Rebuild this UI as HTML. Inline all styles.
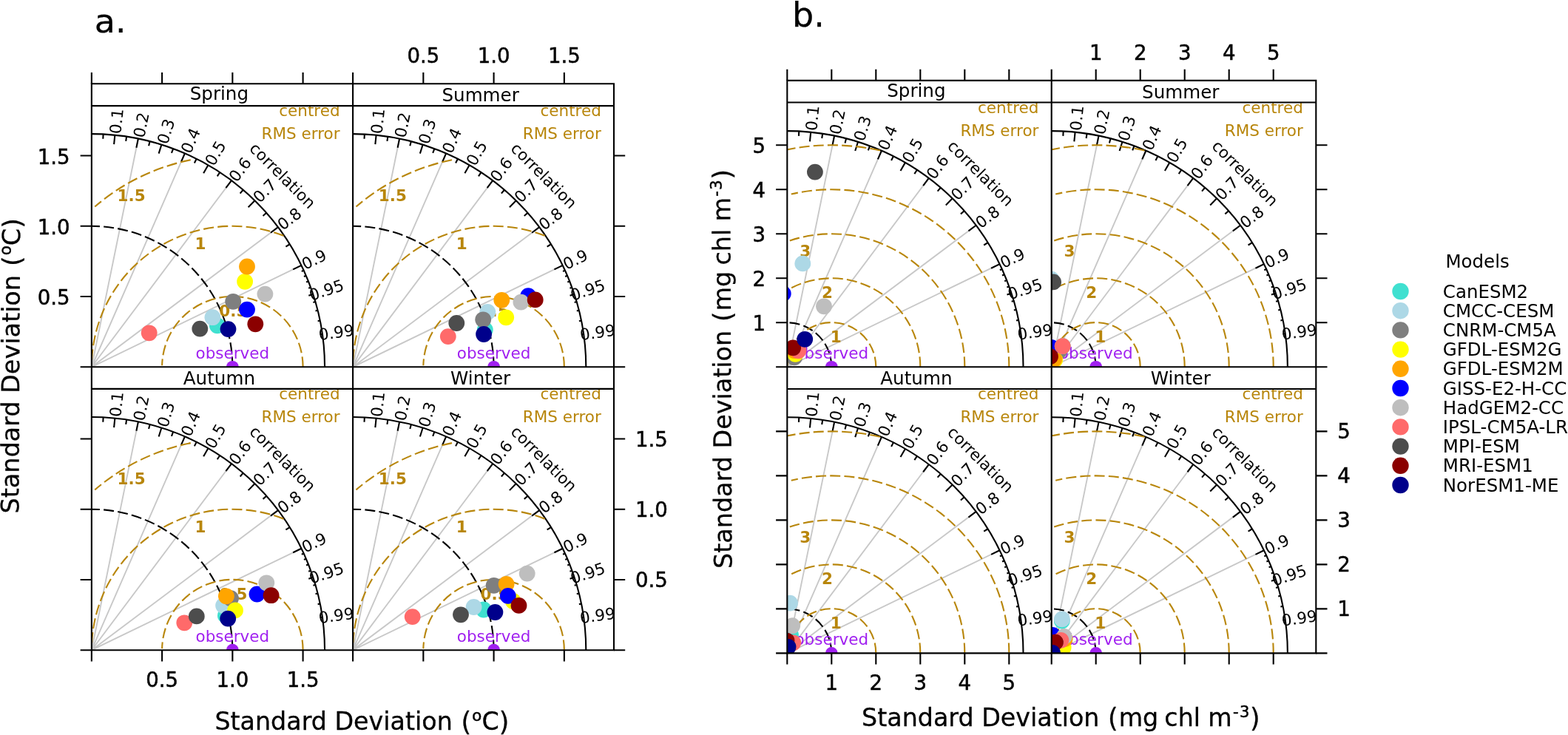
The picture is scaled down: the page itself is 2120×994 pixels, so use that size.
<!DOCTYPE html>
<html lang="en"><head><meta charset="utf-8"><title>Taylor diagrams</title>
<style>html,body{margin:0;padding:0;background:#fff;overflow:hidden}svg{display:block}text{font-family:"DejaVu Sans","Liberation Sans",sans-serif}</style>
</head><body>
<svg width="2120" height="994" viewBox="0 0 2120 994">
<rect width="2120" height="994" fill="#fff"/>
<clipPath id="cpa0"><rect x="123.85" y="143.1" width="353.25" height="353.2"/></clipPath>
<clipPath id="cca0"><circle cx="123.85" cy="496.3" r="316.2"/></clipPath>
<g clip-path="url(#cpa0)">
<path d="M123.85 496.3L186.89 187.47M123.85 496.3L249.93 207.41M123.85 496.3L312.97 244.14M123.85 496.3L376.01 307.18M123.85 496.3L407.53 358.91" fill="none" stroke="#C8C8C8" stroke-width="1.9"/>
<path d="M439.05 496.3 A315.2 315.2 0 0 0 123.85 181.1" fill="none" stroke="#000" stroke-width="2.1"/>
<path d="M314.35 496.3 A190.5 190.5 0 0 0 123.85 305.8" fill="none" stroke="#000" stroke-width="2.1" stroke-dasharray="14 5.2"/>
<path d="M155.37 182.68L154.11 195.22M186.89 187.47L184.37 199.82M218.41 195.62L214.63 207.65M249.93 207.41L244.89 218.97M281.45 223.33L275.15 234.25M312.97 244.14L305.41 254.23M344.49 271.2L335.66 280.21M376.01 307.18L365.92 314.74M407.53 358.91L396.18 364.4M139.61 181.49L139.29 187.79M171.13 184.67L170.18 190.9M202.65 191.11L201.07 197.21M234.17 201.04L231.96 206.94M265.69 214.82L262.85 220.45M297.21 233.06L293.74 238.32M328.73 256.77L324.63 261.56M360.25 287.81L355.52 291.98M391.77 330.26L386.41 333.58M423.29 397.88L417.3 399.85M410.68 365.62L407.81 366.92M413.83 372.77L410.93 374M416.99 380.45L414.05 381.6M420.14 388.76L417.18 389.84M423.29 397.88L420.3 398.86M426.44 408.04L423.42 408.93M429.59 419.67L426.54 420.44M432.75 433.58L429.66 434.2M435.9 451.84L432.78 452.28" fill="none" stroke="#000" stroke-width="2.1"/>
<g fill="none" stroke="#B8860B" stroke-width="2.1" stroke-dasharray="14 5.2">
<path d="M409.6 496.3 A95.25 95.25 0 0 0 219.12 494.24"/>
<path d="M383.38 318.75 A190.5 190.5 0 0 0 123.89 492.19"/>
<path d="M257.8 216.2 A285.75 285.75 0 0 0 128.26 279.45"/>
</g>
<text x="315.38" y="427.73" font-size="21.5" text-anchor="middle" font-weight="bold" fill="#B8860B">0.5</text>
<text x="271.07" y="337.46" font-size="21.5" text-anchor="middle" font-weight="bold" fill="#B8860B">1</text>
<text x="177.55" y="272.1" font-size="21.5" text-anchor="middle" font-weight="bold" fill="#B8860B">1.5</text>
<text x="459.57" y="156.94" font-size="21.5" text-anchor="end" fill="#B8860B">centred</text>
<text x="459.57" y="188.34" font-size="21.5" text-anchor="end" fill="#B8860B">RMS error</text>
<text transform="translate(157.26 163.86) rotate(-84.26)" font-size="21.5" text-anchor="middle" dy="7.84">0.1</text>
<text transform="translate(190.67 168.94) rotate(-78.46)" font-size="21.5" text-anchor="middle" dy="7.84">0.2</text>
<text transform="translate(224.08 177.58) rotate(-72.54)" font-size="21.5" text-anchor="middle" dy="7.84">0.3</text>
<text transform="translate(257.49 190.08) rotate(-66.42)" font-size="21.5" text-anchor="middle" dy="7.84">0.4</text>
<text transform="translate(290.91 206.95) rotate(-60)" font-size="21.5" text-anchor="middle" dy="7.84">0.5</text>
<text transform="translate(324.32 229.01) rotate(-53.13)" font-size="21.5" text-anchor="middle" dy="7.84">0.6</text>
<text transform="translate(357.73 257.7) rotate(-45.57)" font-size="21.5" text-anchor="middle" dy="7.84">0.7</text>
<text transform="translate(391.14 295.83) rotate(-36.87)" font-size="21.5" text-anchor="middle" dy="7.84">0.8</text>
<text transform="translate(424.55 350.66) rotate(-25.84)" font-size="21.5" text-anchor="middle" dy="7.84">0.9</text>
<text transform="translate(441.26 391.97) rotate(-18.19)" font-size="21.5" text-anchor="middle" dy="7.84">0.95</text>
<text transform="translate(454.62 449.17) rotate(-8.11)" font-size="21.5" text-anchor="middle" dy="7.84">0.99</text>
<text transform="translate(381.81 237.84) rotate(45)" font-size="21.5" text-anchor="middle" dy="7">correlation</text>
<circle cx="314.35" cy="496.3" r="8.4" fill="#A020F0"/>
<text x="314.35" y="485.3" font-size="21.5" text-anchor="middle" fill="#A020F0">observed</text>
<circle cx="293.8" cy="440.3" r="10.9" fill="#40E0D0"/>
<circle cx="287.4" cy="429.2" r="10.9" fill="#ADD8E6"/>
<circle cx="315.2" cy="407.8" r="10.9" fill="#7F7F7F"/>
<circle cx="331.1" cy="380.8" r="10.9" fill="#FFFF00"/>
<circle cx="334" cy="360.5" r="10.9" fill="#FFA500"/>
<circle cx="334" cy="418.6" r="10.9" fill="#0000FF"/>
<circle cx="358.4" cy="397.6" r="10.9" fill="#BEBEBE"/>
<circle cx="201.7" cy="450.3" r="10.9" fill="#FF6A6A"/>
<circle cx="270.3" cy="444.6" r="10.9" fill="#4D4D4D"/>
<circle cx="345.3" cy="438.3" r="10.9" fill="#8B0000"/>
<circle cx="308.5" cy="445.1" r="10.9" fill="#00008B"/>
</g>
<clipPath id="cpa1"><rect x="477.1" y="143.1" width="353.25" height="353.2"/></clipPath>
<clipPath id="cca1"><circle cx="477.1" cy="496.3" r="316.2"/></clipPath>
<g clip-path="url(#cpa1)">
<path d="M477.1 496.3L540.14 187.47M477.1 496.3L603.18 207.41M477.1 496.3L666.22 244.14M477.1 496.3L729.26 307.18M477.1 496.3L760.78 358.91" fill="none" stroke="#C8C8C8" stroke-width="1.9"/>
<path d="M792.3 496.3 A315.2 315.2 0 0 0 477.1 181.1" fill="none" stroke="#000" stroke-width="2.1"/>
<path d="M667.6 496.3 A190.5 190.5 0 0 0 477.1 305.8" fill="none" stroke="#000" stroke-width="2.1" stroke-dasharray="14 5.2"/>
<path d="M508.62 182.68L507.36 195.22M540.14 187.47L537.62 199.82M571.66 195.62L567.88 207.65M603.18 207.41L598.14 218.97M634.7 223.33L628.4 234.25M666.22 244.14L658.66 254.23M697.74 271.2L688.91 280.21M729.26 307.18L719.17 314.74M760.78 358.91L749.43 364.4M492.86 181.49L492.54 187.79M524.38 184.67L523.43 190.9M555.9 191.11L554.32 197.21M587.42 201.04L585.21 206.94M618.94 214.82L616.1 220.45M650.46 233.06L646.99 238.32M681.98 256.77L677.88 261.56M713.5 287.81L708.77 291.98M745.02 330.26L739.66 333.58M776.54 397.88L770.55 399.85M763.93 365.62L761.06 366.92M767.08 372.77L764.18 374M770.24 380.45L767.3 381.6M773.39 388.76L770.43 389.84M776.54 397.88L773.55 398.86M779.69 408.04L776.67 408.93M782.84 419.67L779.79 420.44M786 433.58L782.91 434.2M789.15 451.84L786.03 452.28" fill="none" stroke="#000" stroke-width="2.1"/>
<g fill="none" stroke="#B8860B" stroke-width="2.1" stroke-dasharray="14 5.2">
<path d="M762.85 496.3 A95.25 95.25 0 0 0 572.37 494.24"/>
<path d="M736.63 318.75 A190.5 190.5 0 0 0 477.14 492.19"/>
<path d="M611.05 216.2 A285.75 285.75 0 0 0 481.51 279.45"/>
</g>
<text x="668.63" y="427.73" font-size="21.5" text-anchor="middle" font-weight="bold" fill="#B8860B">0.5</text>
<text x="624.32" y="337.46" font-size="21.5" text-anchor="middle" font-weight="bold" fill="#B8860B">1</text>
<text x="530.8" y="272.1" font-size="21.5" text-anchor="middle" font-weight="bold" fill="#B8860B">1.5</text>
<text x="812.82" y="156.94" font-size="21.5" text-anchor="end" fill="#B8860B">centred</text>
<text x="812.82" y="188.34" font-size="21.5" text-anchor="end" fill="#B8860B">RMS error</text>
<text transform="translate(510.51 163.86) rotate(-84.26)" font-size="21.5" text-anchor="middle" dy="7.84">0.1</text>
<text transform="translate(543.92 168.94) rotate(-78.46)" font-size="21.5" text-anchor="middle" dy="7.84">0.2</text>
<text transform="translate(577.33 177.58) rotate(-72.54)" font-size="21.5" text-anchor="middle" dy="7.84">0.3</text>
<text transform="translate(610.74 190.08) rotate(-66.42)" font-size="21.5" text-anchor="middle" dy="7.84">0.4</text>
<text transform="translate(644.16 206.95) rotate(-60)" font-size="21.5" text-anchor="middle" dy="7.84">0.5</text>
<text transform="translate(677.57 229.01) rotate(-53.13)" font-size="21.5" text-anchor="middle" dy="7.84">0.6</text>
<text transform="translate(710.98 257.7) rotate(-45.57)" font-size="21.5" text-anchor="middle" dy="7.84">0.7</text>
<text transform="translate(744.39 295.83) rotate(-36.87)" font-size="21.5" text-anchor="middle" dy="7.84">0.8</text>
<text transform="translate(777.8 350.66) rotate(-25.84)" font-size="21.5" text-anchor="middle" dy="7.84">0.9</text>
<text transform="translate(794.51 391.97) rotate(-18.19)" font-size="21.5" text-anchor="middle" dy="7.84">0.95</text>
<text transform="translate(807.87 449.17) rotate(-8.11)" font-size="21.5" text-anchor="middle" dy="7.84">0.99</text>
<text transform="translate(735.06 237.84) rotate(45)" font-size="21.5" text-anchor="middle" dy="7">correlation</text>
<circle cx="667.6" cy="496.3" r="8.4" fill="#A020F0"/>
<text x="667.6" y="485.3" font-size="21.5" text-anchor="middle" fill="#A020F0">observed</text>
<circle cx="655.8" cy="445.9" r="10.9" fill="#40E0D0"/>
<circle cx="659.3" cy="422" r="10.9" fill="#ADD8E6"/>
<circle cx="653.2" cy="432.3" r="10.9" fill="#7F7F7F"/>
<circle cx="684.2" cy="429.3" r="10.9" fill="#FFFF00"/>
<circle cx="678.3" cy="405.8" r="10.9" fill="#FFA500"/>
<circle cx="714.2" cy="400.1" r="10.9" fill="#0000FF"/>
<circle cx="704.4" cy="408.6" r="10.9" fill="#BEBEBE"/>
<circle cx="605.8" cy="455.1" r="10.9" fill="#FF6A6A"/>
<circle cx="617.3" cy="437" r="10.9" fill="#4D4D4D"/>
<circle cx="723.7" cy="405.4" r="10.9" fill="#8B0000"/>
<circle cx="654.1" cy="452" r="10.9" fill="#00008B"/>
</g>
<clipPath id="cpa2"><rect x="123.85" y="526" width="353.25" height="353.2"/></clipPath>
<clipPath id="cca2"><circle cx="123.85" cy="879.2" r="316.2"/></clipPath>
<g clip-path="url(#cpa2)">
<path d="M123.85 879.2L186.89 570.37M123.85 879.2L249.93 590.31M123.85 879.2L312.97 627.04M123.85 879.2L376.01 690.08M123.85 879.2L407.53 741.81" fill="none" stroke="#C8C8C8" stroke-width="1.9"/>
<path d="M439.05 879.2 A315.2 315.2 0 0 0 123.85 564" fill="none" stroke="#000" stroke-width="2.1"/>
<path d="M314.35 879.2 A190.5 190.5 0 0 0 123.85 688.7" fill="none" stroke="#000" stroke-width="2.1" stroke-dasharray="14 5.2"/>
<path d="M155.37 565.58L154.11 578.12M186.89 570.37L184.37 582.72M218.41 578.52L214.63 590.55M249.93 590.31L244.89 601.87M281.45 606.23L275.15 617.15M312.97 627.04L305.41 637.13M344.49 654.1L335.66 663.11M376.01 690.08L365.92 697.64M407.53 741.81L396.18 747.3M139.61 564.39L139.29 570.69M171.13 567.57L170.18 573.8M202.65 574.01L201.07 580.11M234.17 583.94L231.96 589.84M265.69 597.72L262.85 603.35M297.21 615.96L293.74 621.22M328.73 639.67L324.63 644.46M360.25 670.71L355.52 674.88M391.77 713.16L386.41 716.48M423.29 780.78L417.3 782.75M410.68 748.52L407.81 749.82M413.83 755.67L410.93 756.9M416.99 763.35L414.05 764.5M420.14 771.66L417.18 772.74M423.29 780.78L420.3 781.76M426.44 790.94L423.42 791.83M429.59 802.57L426.54 803.34M432.75 816.48L429.66 817.1M435.9 834.74L432.78 835.18" fill="none" stroke="#000" stroke-width="2.1"/>
<g fill="none" stroke="#B8860B" stroke-width="2.1" stroke-dasharray="14 5.2">
<path d="M409.6 879.2 A95.25 95.25 0 0 0 219.12 877.14"/>
<path d="M383.38 701.65 A190.5 190.5 0 0 0 123.89 875.09"/>
<path d="M257.8 599.1 A285.75 285.75 0 0 0 128.26 662.35"/>
</g>
<text x="315.38" y="810.63" font-size="21.5" text-anchor="middle" font-weight="bold" fill="#B8860B">0.5</text>
<text x="271.07" y="720.36" font-size="21.5" text-anchor="middle" font-weight="bold" fill="#B8860B">1</text>
<text x="177.55" y="655" font-size="21.5" text-anchor="middle" font-weight="bold" fill="#B8860B">1.5</text>
<text x="459.57" y="539.84" font-size="21.5" text-anchor="end" fill="#B8860B">centred</text>
<text x="459.57" y="571.24" font-size="21.5" text-anchor="end" fill="#B8860B">RMS error</text>
<text transform="translate(157.26 546.76) rotate(-84.26)" font-size="21.5" text-anchor="middle" dy="7.84">0.1</text>
<text transform="translate(190.67 551.84) rotate(-78.46)" font-size="21.5" text-anchor="middle" dy="7.84">0.2</text>
<text transform="translate(224.08 560.48) rotate(-72.54)" font-size="21.5" text-anchor="middle" dy="7.84">0.3</text>
<text transform="translate(257.49 572.98) rotate(-66.42)" font-size="21.5" text-anchor="middle" dy="7.84">0.4</text>
<text transform="translate(290.91 589.85) rotate(-60)" font-size="21.5" text-anchor="middle" dy="7.84">0.5</text>
<text transform="translate(324.32 611.91) rotate(-53.13)" font-size="21.5" text-anchor="middle" dy="7.84">0.6</text>
<text transform="translate(357.73 640.6) rotate(-45.57)" font-size="21.5" text-anchor="middle" dy="7.84">0.7</text>
<text transform="translate(391.14 678.73) rotate(-36.87)" font-size="21.5" text-anchor="middle" dy="7.84">0.8</text>
<text transform="translate(424.55 733.56) rotate(-25.84)" font-size="21.5" text-anchor="middle" dy="7.84">0.9</text>
<text transform="translate(441.26 774.87) rotate(-18.19)" font-size="21.5" text-anchor="middle" dy="7.84">0.95</text>
<text transform="translate(454.62 832.07) rotate(-8.11)" font-size="21.5" text-anchor="middle" dy="7.84">0.99</text>
<text transform="translate(381.81 620.74) rotate(45)" font-size="21.5" text-anchor="middle" dy="7">correlation</text>
<circle cx="314.35" cy="879.2" r="8.4" fill="#A020F0"/>
<text x="314.35" y="868.2" font-size="21.5" text-anchor="middle" fill="#A020F0">observed</text>
<circle cx="304.9" cy="832.4" r="10.9" fill="#40E0D0"/>
<circle cx="302.1" cy="819" r="10.9" fill="#ADD8E6"/>
<circle cx="312" cy="809.2" r="10.9" fill="#7F7F7F"/>
<circle cx="318" cy="825.4" r="10.9" fill="#FFFF00"/>
<circle cx="305.9" cy="806.3" r="10.9" fill="#FFA500"/>
<circle cx="347.5" cy="803.5" r="10.9" fill="#0000FF"/>
<circle cx="360.3" cy="788.3" r="10.9" fill="#BEBEBE"/>
<circle cx="249.3" cy="842.3" r="10.9" fill="#FF6A6A"/>
<circle cx="265.8" cy="833.4" r="10.9" fill="#4D4D4D"/>
<circle cx="366.6" cy="805.2" r="10.9" fill="#8B0000"/>
<circle cx="308.2" cy="836.6" r="10.9" fill="#00008B"/>
</g>
<clipPath id="cpa3"><rect x="477.1" y="526" width="353.25" height="353.2"/></clipPath>
<clipPath id="cca3"><circle cx="477.1" cy="879.2" r="316.2"/></clipPath>
<g clip-path="url(#cpa3)">
<path d="M477.1 879.2L540.14 570.37M477.1 879.2L603.18 590.31M477.1 879.2L666.22 627.04M477.1 879.2L729.26 690.08M477.1 879.2L760.78 741.81" fill="none" stroke="#C8C8C8" stroke-width="1.9"/>
<path d="M792.3 879.2 A315.2 315.2 0 0 0 477.1 564" fill="none" stroke="#000" stroke-width="2.1"/>
<path d="M667.6 879.2 A190.5 190.5 0 0 0 477.1 688.7" fill="none" stroke="#000" stroke-width="2.1" stroke-dasharray="14 5.2"/>
<path d="M508.62 565.58L507.36 578.12M540.14 570.37L537.62 582.72M571.66 578.52L567.88 590.55M603.18 590.31L598.14 601.87M634.7 606.23L628.4 617.15M666.22 627.04L658.66 637.13M697.74 654.1L688.91 663.11M729.26 690.08L719.17 697.64M760.78 741.81L749.43 747.3M492.86 564.39L492.54 570.69M524.38 567.57L523.43 573.8M555.9 574.01L554.32 580.11M587.42 583.94L585.21 589.84M618.94 597.72L616.1 603.35M650.46 615.96L646.99 621.22M681.98 639.67L677.88 644.46M713.5 670.71L708.77 674.88M745.02 713.16L739.66 716.48M776.54 780.78L770.55 782.75M763.93 748.52L761.06 749.82M767.08 755.67L764.18 756.9M770.24 763.35L767.3 764.5M773.39 771.66L770.43 772.74M776.54 780.78L773.55 781.76M779.69 790.94L776.67 791.83M782.84 802.57L779.79 803.34M786 816.48L782.91 817.1M789.15 834.74L786.03 835.18" fill="none" stroke="#000" stroke-width="2.1"/>
<g fill="none" stroke="#B8860B" stroke-width="2.1" stroke-dasharray="14 5.2">
<path d="M762.85 879.2 A95.25 95.25 0 0 0 572.37 877.14"/>
<path d="M736.63 701.65 A190.5 190.5 0 0 0 477.14 875.09"/>
<path d="M611.05 599.1 A285.75 285.75 0 0 0 481.51 662.35"/>
</g>
<text x="668.63" y="810.63" font-size="21.5" text-anchor="middle" font-weight="bold" fill="#B8860B">0.5</text>
<text x="624.32" y="720.36" font-size="21.5" text-anchor="middle" font-weight="bold" fill="#B8860B">1</text>
<text x="530.8" y="655" font-size="21.5" text-anchor="middle" font-weight="bold" fill="#B8860B">1.5</text>
<text x="812.82" y="539.84" font-size="21.5" text-anchor="end" fill="#B8860B">centred</text>
<text x="812.82" y="571.24" font-size="21.5" text-anchor="end" fill="#B8860B">RMS error</text>
<text transform="translate(510.51 546.76) rotate(-84.26)" font-size="21.5" text-anchor="middle" dy="7.84">0.1</text>
<text transform="translate(543.92 551.84) rotate(-78.46)" font-size="21.5" text-anchor="middle" dy="7.84">0.2</text>
<text transform="translate(577.33 560.48) rotate(-72.54)" font-size="21.5" text-anchor="middle" dy="7.84">0.3</text>
<text transform="translate(610.74 572.98) rotate(-66.42)" font-size="21.5" text-anchor="middle" dy="7.84">0.4</text>
<text transform="translate(644.16 589.85) rotate(-60)" font-size="21.5" text-anchor="middle" dy="7.84">0.5</text>
<text transform="translate(677.57 611.91) rotate(-53.13)" font-size="21.5" text-anchor="middle" dy="7.84">0.6</text>
<text transform="translate(710.98 640.6) rotate(-45.57)" font-size="21.5" text-anchor="middle" dy="7.84">0.7</text>
<text transform="translate(744.39 678.73) rotate(-36.87)" font-size="21.5" text-anchor="middle" dy="7.84">0.8</text>
<text transform="translate(777.8 733.56) rotate(-25.84)" font-size="21.5" text-anchor="middle" dy="7.84">0.9</text>
<text transform="translate(794.51 774.87) rotate(-18.19)" font-size="21.5" text-anchor="middle" dy="7.84">0.95</text>
<text transform="translate(807.87 832.07) rotate(-8.11)" font-size="21.5" text-anchor="middle" dy="7.84">0.99</text>
<text transform="translate(735.06 620.74) rotate(45)" font-size="21.5" text-anchor="middle" dy="7">correlation</text>
<circle cx="667.6" cy="879.2" r="8.4" fill="#A020F0"/>
<text x="667.6" y="868.2" font-size="21.5" text-anchor="middle" fill="#A020F0">observed</text>
<circle cx="653.9" cy="824.5" r="10.9" fill="#40E0D0"/>
<circle cx="640.6" cy="821" r="10.9" fill="#ADD8E6"/>
<circle cx="667.7" cy="791.8" r="10.9" fill="#7F7F7F"/>
<circle cx="693.7" cy="813" r="10.9" fill="#FFFF00"/>
<circle cx="684.6" cy="790" r="10.9" fill="#FFA500"/>
<circle cx="686.8" cy="805.9" r="10.9" fill="#0000FF"/>
<circle cx="712.7" cy="775.6" r="10.9" fill="#BEBEBE"/>
<circle cx="557.7" cy="834.1" r="10.9" fill="#FF6A6A"/>
<circle cx="623" cy="831.3" r="10.9" fill="#4D4D4D"/>
<circle cx="701.5" cy="818.9" r="10.9" fill="#8B0000"/>
<circle cx="669.4" cy="828" r="10.9" fill="#00008B"/>
</g>
<path d="M123.85 113.2H477.1V496.3H123.85Z M123.85 143.1H477.1M477.1 113.2H830V496.3H477.1Z M477.1 143.1H830M123.85 496.3H477.1V879.2H123.85Z M123.85 525.9H477.1M477.1 496.3H830V879.2H477.1Z M477.1 525.9H830" fill="none" stroke="#000" stroke-width="2.1" stroke-linejoin="miter"/>
<path d="M123.85 113.2v-15.2M123.85 879.2v15.2M219.1 113.2v-15.2M219.1 879.2v15.2M314.35 113.2v-15.2M314.35 879.2v15.2M409.6 113.2v-15.2M409.6 879.2v15.2M477.1 113.2v-15.2M477.1 879.2v15.2M572.35 113.2v-15.2M572.35 879.2v15.2M667.6 113.2v-15.2M667.6 879.2v15.2M762.85 113.2v-15.2M762.85 879.2v15.2M123.85 496.3h-15.2M830 496.3h15.2M123.85 401.05h-15.2M830 401.05h15.2M123.85 305.8h-15.2M830 305.8h15.2M123.85 210.55h-15.2M830 210.55h15.2M123.85 879.2h-15.2M830 879.2h15.2M123.85 783.95h-15.2M830 783.95h15.2M123.85 688.7h-15.2M830 688.7h15.2M123.85 593.45h-15.2M830 593.45h15.2" fill="none" stroke="#000" stroke-width="2.1"/>
<text x="572.35" y="85.3" font-size="27.6" text-anchor="middle" stroke="#000" stroke-width="0.5">0.5</text>
<text x="219.1" y="928.7" font-size="27.6" text-anchor="middle" stroke="#000" stroke-width="0.5">0.5</text>
<text x="94.65" y="412.01" font-size="27.6" text-anchor="end" stroke="#000" stroke-width="0.5">0.5</text>
<text x="859" y="794.01" font-size="27.6" stroke="#000" stroke-width="0.5">0.5</text>
<text x="667.6" y="85.3" font-size="27.6" text-anchor="middle" stroke="#000" stroke-width="0.5">1.0</text>
<text x="314.35" y="928.7" font-size="27.6" text-anchor="middle" stroke="#000" stroke-width="0.5">1.0</text>
<text x="94.65" y="316.76" font-size="27.6" text-anchor="end" stroke="#000" stroke-width="0.5">1.0</text>
<text x="859" y="698.76" font-size="27.6" stroke="#000" stroke-width="0.5">1.0</text>
<text x="762.85" y="85.3" font-size="27.6" text-anchor="middle" stroke="#000" stroke-width="0.5">1.5</text>
<text x="409.6" y="928.7" font-size="27.6" text-anchor="middle" stroke="#000" stroke-width="0.5">1.5</text>
<text x="94.65" y="221.51" font-size="27.6" text-anchor="end" stroke="#000" stroke-width="0.5">1.5</text>
<text x="859" y="603.51" font-size="27.6" stroke="#000" stroke-width="0.5">1.5</text>
<text x="296.38" y="135.4" font-size="24.6" text-anchor="middle">Spring</text>
<text x="649.62" y="137.4" font-size="24.6" text-anchor="middle">Summer</text>
<text x="296.38" y="520.35" font-size="24.6" text-anchor="middle">Autumn</text>
<text x="649.62" y="520.35" font-size="24.6" text-anchor="middle">Winter</text>
<clipPath id="cpb0"><rect x="1064.3" y="138.5" width="357.4" height="357.8"/></clipPath>
<clipPath id="ccb0"><circle cx="1064.3" cy="496.3" r="320.2"/></clipPath>
<g clip-path="url(#cpb0)">
<path d="M1064.3 496.3L1128.14 183.55M1064.3 496.3L1191.98 203.75M1064.3 496.3L1255.82 240.94M1064.3 496.3L1319.66 304.78M1064.3 496.3L1351.58 357.16" fill="none" stroke="#C8C8C8" stroke-width="1.9"/>
<path d="M1383.5 496.3 A319.2 319.2 0 0 0 1064.3 177.1" fill="none" stroke="#000" stroke-width="2.1"/>
<path d="M1124.3 496.3 A60 60 0 0 0 1064.3 436.3" fill="none" stroke="#000" stroke-width="2.1" stroke-dasharray="14 5.2"/>
<path d="M1096.22 178.7L1094.94 191.4M1128.14 183.55L1125.59 196.06M1160.06 191.8L1156.23 203.98M1191.98 203.75L1186.87 215.45M1223.9 219.86L1217.52 230.92M1255.82 240.94L1248.16 251.15M1287.74 268.35L1278.8 277.46M1319.66 304.78L1309.45 312.44M1351.58 357.16L1340.09 362.73M1080.26 177.5L1079.94 183.88M1112.18 180.71L1111.22 187.02M1144.1 187.24L1142.5 193.42M1176.02 197.29L1173.79 203.27M1207.94 211.25L1205.07 216.95M1239.86 229.72L1236.35 235.05M1271.78 253.73L1267.63 258.58M1303.7 285.17L1298.91 289.39M1335.62 328.15L1330.19 331.51M1367.54 396.63L1361.48 398.62M1354.77 363.96L1351.87 365.28M1357.96 371.2L1355.03 372.45M1361.16 378.98L1358.19 380.15M1364.35 387.4L1361.35 388.49M1367.54 396.63L1364.51 397.63M1370.73 406.92L1367.67 407.82M1373.92 418.7L1370.83 419.48M1377.12 432.78L1373.99 433.42M1380.31 451.27L1377.15 451.72" fill="none" stroke="#000" stroke-width="2.1"/>
<g fill="none" stroke="#B8860B" stroke-width="2.1" stroke-dasharray="14 5.2">
<path d="M1184.3 496.3 A60 60 0 0 0 1064.31 495"/>
<path d="M1244.3 496.3 A120 120 0 0 0 1066.85 390.94"/>
<path d="M1304.3 496.3 A180 180 0 0 0 1067.81 325.39"/>
<path d="M1364.3 496.3 A240 240 0 0 0 1069.77 262.58"/>
<path d="M1190 203.58 A300 300 0 0 0 1064.93 202.23"/>
</g>
<text x="1130.34" y="463.28" font-size="21.5" text-anchor="middle" font-weight="bold" fill="#B8860B">1</text>
<text x="1118.4" y="403.12" font-size="21.5" text-anchor="middle" font-weight="bold" fill="#B8860B">2</text>
<text x="1088.68" y="346.53" font-size="21.5" text-anchor="middle" font-weight="bold" fill="#B8860B">3</text>
<text x="1404.42" y="152.74" font-size="21.5" text-anchor="end" fill="#B8860B">centred</text>
<text x="1404.42" y="184.14" font-size="21.5" text-anchor="end" fill="#B8860B">RMS error</text>
<text transform="translate(1098.14 159.64) rotate(-84.26)" font-size="21.5" text-anchor="middle" dy="7.84">0.1</text>
<text transform="translate(1131.97 164.78) rotate(-78.46)" font-size="21.5" text-anchor="middle" dy="7.84">0.2</text>
<text transform="translate(1165.81 173.53) rotate(-72.54)" font-size="21.5" text-anchor="middle" dy="7.84">0.3</text>
<text transform="translate(1199.64 186.2) rotate(-66.42)" font-size="21.5" text-anchor="middle" dy="7.84">0.4</text>
<text transform="translate(1233.48 203.28) rotate(-60)" font-size="21.5" text-anchor="middle" dy="7.84">0.5</text>
<text transform="translate(1267.31 225.62) rotate(-53.13)" font-size="21.5" text-anchor="middle" dy="7.84">0.6</text>
<text transform="translate(1301.15 254.67) rotate(-45.57)" font-size="21.5" text-anchor="middle" dy="7.84">0.7</text>
<text transform="translate(1334.98 293.29) rotate(-36.87)" font-size="21.5" text-anchor="middle" dy="7.84">0.8</text>
<text transform="translate(1368.82 348.82) rotate(-25.84)" font-size="21.5" text-anchor="middle" dy="7.84">0.9</text>
<text transform="translate(1385.73 390.65) rotate(-18.19)" font-size="21.5" text-anchor="middle" dy="7.84">0.95</text>
<text transform="translate(1399.27 448.57) rotate(-8.11)" font-size="21.5" text-anchor="middle" dy="7.84">0.99</text>
<text transform="translate(1325.54 234.56) rotate(45)" font-size="21.5" text-anchor="middle" dy="7">correlation</text>
<circle cx="1124.3" cy="496.3" r="8.4" fill="#A020F0"/>
<text x="1124.3" y="485.3" font-size="21.5" text-anchor="middle" fill="#A020F0">observed</text>
<circle cx="1074" cy="478" r="10.9" fill="#40E0D0"/>
<circle cx="1085.3" cy="356.4" r="10.9" fill="#ADD8E6"/>
<circle cx="1073.9" cy="483.4" r="10.9" fill="#7F7F7F"/>
<circle cx="1075.4" cy="478.9" r="10.9" fill="#FFFF00"/>
<circle cx="1074.5" cy="474.2" r="10.9" fill="#FFA500"/>
<circle cx="1058.8" cy="397.1" r="10.9" fill="#0000FF"/>
<circle cx="1114" cy="414.3" r="10.9" fill="#BEBEBE"/>
<circle cx="1079.4" cy="474.3" r="10.9" fill="#FF6A6A"/>
<circle cx="1101.9" cy="232.6" r="10.9" fill="#4D4D4D"/>
<circle cx="1072.2" cy="470.3" r="10.9" fill="#8B0000"/>
<circle cx="1088.2" cy="458.8" r="10.9" fill="#00008B"/>
</g>
<clipPath id="cpb1"><rect x="1421.7" y="138.5" width="357.4" height="357.8"/></clipPath>
<clipPath id="ccb1"><circle cx="1421.7" cy="496.3" r="320.2"/></clipPath>
<g clip-path="url(#cpb1)">
<path d="M1421.7 496.3L1485.54 183.55M1421.7 496.3L1549.38 203.75M1421.7 496.3L1613.22 240.94M1421.7 496.3L1677.06 304.78M1421.7 496.3L1708.98 357.16" fill="none" stroke="#C8C8C8" stroke-width="1.9"/>
<path d="M1740.9 496.3 A319.2 319.2 0 0 0 1421.7 177.1" fill="none" stroke="#000" stroke-width="2.1"/>
<path d="M1481.7 496.3 A60 60 0 0 0 1421.7 436.3" fill="none" stroke="#000" stroke-width="2.1" stroke-dasharray="14 5.2"/>
<path d="M1453.62 178.7L1452.34 191.4M1485.54 183.55L1482.99 196.06M1517.46 191.8L1513.63 203.98M1549.38 203.75L1544.27 215.45M1581.3 219.86L1574.92 230.92M1613.22 240.94L1605.56 251.15M1645.14 268.35L1636.2 277.46M1677.06 304.78L1666.85 312.44M1708.98 357.16L1697.49 362.73M1437.66 177.5L1437.34 183.88M1469.58 180.71L1468.62 187.02M1501.5 187.24L1499.9 193.42M1533.42 197.29L1531.19 203.27M1565.34 211.25L1562.47 216.95M1597.26 229.72L1593.75 235.05M1629.18 253.73L1625.03 258.58M1661.1 285.17L1656.31 289.39M1693.02 328.15L1687.59 331.51M1724.94 396.63L1718.88 398.62M1712.17 363.96L1709.27 365.28M1715.36 371.2L1712.43 372.45M1718.56 378.98L1715.59 380.15M1721.75 387.4L1718.75 388.49M1724.94 396.63L1721.91 397.63M1728.13 406.92L1725.07 407.82M1731.32 418.7L1728.23 419.48M1734.52 432.78L1731.39 433.42M1737.71 451.27L1734.55 451.72" fill="none" stroke="#000" stroke-width="2.1"/>
<g fill="none" stroke="#B8860B" stroke-width="2.1" stroke-dasharray="14 5.2">
<path d="M1541.7 496.3 A60 60 0 0 0 1421.71 495"/>
<path d="M1601.7 496.3 A120 120 0 0 0 1424.25 390.94"/>
<path d="M1661.7 496.3 A180 180 0 0 0 1425.21 325.39"/>
<path d="M1721.7 496.3 A240 240 0 0 0 1427.17 262.58"/>
<path d="M1547.4 203.58 A300 300 0 0 0 1422.33 202.23"/>
</g>
<text x="1487.74" y="463.28" font-size="21.5" text-anchor="middle" font-weight="bold" fill="#B8860B">1</text>
<text x="1475.8" y="403.12" font-size="21.5" text-anchor="middle" font-weight="bold" fill="#B8860B">2</text>
<text x="1446.08" y="346.53" font-size="21.5" text-anchor="middle" font-weight="bold" fill="#B8860B">3</text>
<text x="1761.82" y="152.74" font-size="21.5" text-anchor="end" fill="#B8860B">centred</text>
<text x="1761.82" y="184.14" font-size="21.5" text-anchor="end" fill="#B8860B">RMS error</text>
<text transform="translate(1455.54 159.64) rotate(-84.26)" font-size="21.5" text-anchor="middle" dy="7.84">0.1</text>
<text transform="translate(1489.37 164.78) rotate(-78.46)" font-size="21.5" text-anchor="middle" dy="7.84">0.2</text>
<text transform="translate(1523.21 173.53) rotate(-72.54)" font-size="21.5" text-anchor="middle" dy="7.84">0.3</text>
<text transform="translate(1557.04 186.2) rotate(-66.42)" font-size="21.5" text-anchor="middle" dy="7.84">0.4</text>
<text transform="translate(1590.88 203.28) rotate(-60)" font-size="21.5" text-anchor="middle" dy="7.84">0.5</text>
<text transform="translate(1624.71 225.62) rotate(-53.13)" font-size="21.5" text-anchor="middle" dy="7.84">0.6</text>
<text transform="translate(1658.55 254.67) rotate(-45.57)" font-size="21.5" text-anchor="middle" dy="7.84">0.7</text>
<text transform="translate(1692.38 293.29) rotate(-36.87)" font-size="21.5" text-anchor="middle" dy="7.84">0.8</text>
<text transform="translate(1726.22 348.82) rotate(-25.84)" font-size="21.5" text-anchor="middle" dy="7.84">0.9</text>
<text transform="translate(1743.13 390.65) rotate(-18.19)" font-size="21.5" text-anchor="middle" dy="7.84">0.95</text>
<text transform="translate(1756.67 448.57) rotate(-8.11)" font-size="21.5" text-anchor="middle" dy="7.84">0.99</text>
<text transform="translate(1682.94 234.56) rotate(45)" font-size="21.5" text-anchor="middle" dy="7">correlation</text>
<circle cx="1481.7" cy="496.3" r="8.4" fill="#A020F0"/>
<text x="1481.7" y="485.3" font-size="21.5" text-anchor="middle" fill="#A020F0">observed</text>
<circle cx="1436.7" cy="468.1" r="10.9" fill="#40E0D0"/>
<circle cx="1421.5" cy="377.6" r="10.9" fill="#ADD8E6"/>
<circle cx="1432.4" cy="474" r="10.9" fill="#7F7F7F"/>
<circle cx="1426.2" cy="486.7" r="10.9" fill="#FFFF00"/>
<circle cx="1425.3" cy="485.8" r="10.9" fill="#FFA500"/>
<circle cx="1421.3" cy="470" r="10.9" fill="#0000FF"/>
<circle cx="1436.7" cy="468.1" r="10.9" fill="#BEBEBE"/>
<circle cx="1436.7" cy="468.1" r="10.9" fill="#FF6A6A"/>
<circle cx="1424.1" cy="381.4" r="10.9" fill="#4D4D4D"/>
<circle cx="1420" cy="482.2" r="10.9" fill="#8B0000"/>
</g>
<clipPath id="cpb2"><rect x="1064.3" y="525.6" width="357.4" height="357.8"/></clipPath>
<clipPath id="ccb2"><circle cx="1064.3" cy="883.4" r="320.2"/></clipPath>
<g clip-path="url(#cpb2)">
<path d="M1064.3 883.4L1128.14 570.65M1064.3 883.4L1191.98 590.85M1064.3 883.4L1255.82 628.04M1064.3 883.4L1319.66 691.88M1064.3 883.4L1351.58 744.26" fill="none" stroke="#C8C8C8" stroke-width="1.9"/>
<path d="M1383.5 883.4 A319.2 319.2 0 0 0 1064.3 564.2" fill="none" stroke="#000" stroke-width="2.1"/>
<path d="M1124.3 883.4 A60 60 0 0 0 1064.3 823.4" fill="none" stroke="#000" stroke-width="2.1" stroke-dasharray="14 5.2"/>
<path d="M1096.22 565.8L1094.94 578.5M1128.14 570.65L1125.59 583.16M1160.06 578.9L1156.23 591.08M1191.98 590.85L1186.87 602.55M1223.9 606.96L1217.52 618.02M1255.82 628.04L1248.16 638.25M1287.74 655.45L1278.8 664.56M1319.66 691.88L1309.45 699.54M1351.58 744.26L1340.09 749.83M1080.26 564.6L1079.94 570.98M1112.18 567.81L1111.22 574.12M1144.1 574.34L1142.5 580.52M1176.02 584.39L1173.79 590.37M1207.94 598.35L1205.07 604.05M1239.86 616.82L1236.35 622.15M1271.78 640.83L1267.63 645.68M1303.7 672.27L1298.91 676.49M1335.62 715.25L1330.19 718.61M1367.54 783.73L1361.48 785.72M1354.77 751.06L1351.87 752.38M1357.96 758.3L1355.03 759.55M1361.16 766.08L1358.19 767.25M1364.35 774.5L1361.35 775.59M1367.54 783.73L1364.51 784.73M1370.73 794.02L1367.67 794.92M1373.92 805.8L1370.83 806.58M1377.12 819.88L1373.99 820.52M1380.31 838.37L1377.15 838.82" fill="none" stroke="#000" stroke-width="2.1"/>
<g fill="none" stroke="#B8860B" stroke-width="2.1" stroke-dasharray="14 5.2">
<path d="M1184.3 883.4 A60 60 0 0 0 1064.31 882.1"/>
<path d="M1244.3 883.4 A120 120 0 0 0 1066.85 778.04"/>
<path d="M1304.3 883.4 A180 180 0 0 0 1067.81 712.49"/>
<path d="M1364.3 883.4 A240 240 0 0 0 1069.77 649.68"/>
<path d="M1190 590.68 A300 300 0 0 0 1064.93 589.33"/>
</g>
<text x="1130.34" y="850.38" font-size="21.5" text-anchor="middle" font-weight="bold" fill="#B8860B">1</text>
<text x="1118.4" y="790.22" font-size="21.5" text-anchor="middle" font-weight="bold" fill="#B8860B">2</text>
<text x="1088.68" y="733.63" font-size="21.5" text-anchor="middle" font-weight="bold" fill="#B8860B">3</text>
<text x="1404.42" y="539.84" font-size="21.5" text-anchor="end" fill="#B8860B">centred</text>
<text x="1404.42" y="571.24" font-size="21.5" text-anchor="end" fill="#B8860B">RMS error</text>
<text transform="translate(1098.14 546.74) rotate(-84.26)" font-size="21.5" text-anchor="middle" dy="7.84">0.1</text>
<text transform="translate(1131.97 551.88) rotate(-78.46)" font-size="21.5" text-anchor="middle" dy="7.84">0.2</text>
<text transform="translate(1165.81 560.63) rotate(-72.54)" font-size="21.5" text-anchor="middle" dy="7.84">0.3</text>
<text transform="translate(1199.64 573.3) rotate(-66.42)" font-size="21.5" text-anchor="middle" dy="7.84">0.4</text>
<text transform="translate(1233.48 590.38) rotate(-60)" font-size="21.5" text-anchor="middle" dy="7.84">0.5</text>
<text transform="translate(1267.31 612.72) rotate(-53.13)" font-size="21.5" text-anchor="middle" dy="7.84">0.6</text>
<text transform="translate(1301.15 641.77) rotate(-45.57)" font-size="21.5" text-anchor="middle" dy="7.84">0.7</text>
<text transform="translate(1334.98 680.39) rotate(-36.87)" font-size="21.5" text-anchor="middle" dy="7.84">0.8</text>
<text transform="translate(1368.82 735.92) rotate(-25.84)" font-size="21.5" text-anchor="middle" dy="7.84">0.9</text>
<text transform="translate(1385.73 777.75) rotate(-18.19)" font-size="21.5" text-anchor="middle" dy="7.84">0.95</text>
<text transform="translate(1399.27 835.67) rotate(-8.11)" font-size="21.5" text-anchor="middle" dy="7.84">0.99</text>
<text transform="translate(1325.54 621.66) rotate(45)" font-size="21.5" text-anchor="middle" dy="7">correlation</text>
<circle cx="1124.3" cy="883.4" r="8.4" fill="#A020F0"/>
<text x="1124.3" y="872.4" font-size="21.5" text-anchor="middle" fill="#A020F0">observed</text>
<circle cx="1069" cy="858.7" r="10.9" fill="#40E0D0"/>
<circle cx="1068" cy="815.6" r="10.9" fill="#ADD8E6"/>
<circle cx="1065.4" cy="874.8" r="10.9" fill="#7F7F7F"/>
<circle cx="1065.4" cy="874.8" r="10.9" fill="#FFFF00"/>
<circle cx="1065.4" cy="874.8" r="10.9" fill="#FFA500"/>
<circle cx="1065.4" cy="874.8" r="10.9" fill="#0000FF"/>
<circle cx="1071.2" cy="846.2" r="10.9" fill="#BEBEBE"/>
<circle cx="1072.3" cy="869.3" r="10.9" fill="#FF6A6A"/>
<circle cx="1065.4" cy="874.8" r="10.9" fill="#4D4D4D"/>
<circle cx="1063.5" cy="866.3" r="10.9" fill="#8B0000"/>
<circle cx="1065.4" cy="874.8" r="10.9" fill="#00008B"/>
</g>
<clipPath id="cpb3"><rect x="1421.7" y="525.6" width="357.4" height="357.8"/></clipPath>
<clipPath id="ccb3"><circle cx="1421.7" cy="883.4" r="320.2"/></clipPath>
<g clip-path="url(#cpb3)">
<path d="M1421.7 883.4L1485.54 570.65M1421.7 883.4L1549.38 590.85M1421.7 883.4L1613.22 628.04M1421.7 883.4L1677.06 691.88M1421.7 883.4L1708.98 744.26" fill="none" stroke="#C8C8C8" stroke-width="1.9"/>
<path d="M1740.9 883.4 A319.2 319.2 0 0 0 1421.7 564.2" fill="none" stroke="#000" stroke-width="2.1"/>
<path d="M1481.7 883.4 A60 60 0 0 0 1421.7 823.4" fill="none" stroke="#000" stroke-width="2.1" stroke-dasharray="14 5.2"/>
<path d="M1453.62 565.8L1452.34 578.5M1485.54 570.65L1482.99 583.16M1517.46 578.9L1513.63 591.08M1549.38 590.85L1544.27 602.55M1581.3 606.96L1574.92 618.02M1613.22 628.04L1605.56 638.25M1645.14 655.45L1636.2 664.56M1677.06 691.88L1666.85 699.54M1708.98 744.26L1697.49 749.83M1437.66 564.6L1437.34 570.98M1469.58 567.81L1468.62 574.12M1501.5 574.34L1499.9 580.52M1533.42 584.39L1531.19 590.37M1565.34 598.35L1562.47 604.05M1597.26 616.82L1593.75 622.15M1629.18 640.83L1625.03 645.68M1661.1 672.27L1656.31 676.49M1693.02 715.25L1687.59 718.61M1724.94 783.73L1718.88 785.72M1712.17 751.06L1709.27 752.38M1715.36 758.3L1712.43 759.55M1718.56 766.08L1715.59 767.25M1721.75 774.5L1718.75 775.59M1724.94 783.73L1721.91 784.73M1728.13 794.02L1725.07 794.92M1731.32 805.8L1728.23 806.58M1734.52 819.88L1731.39 820.52M1737.71 838.37L1734.55 838.82" fill="none" stroke="#000" stroke-width="2.1"/>
<g fill="none" stroke="#B8860B" stroke-width="2.1" stroke-dasharray="14 5.2">
<path d="M1541.7 883.4 A60 60 0 0 0 1421.71 882.1"/>
<path d="M1601.7 883.4 A120 120 0 0 0 1424.25 778.04"/>
<path d="M1661.7 883.4 A180 180 0 0 0 1425.21 712.49"/>
<path d="M1721.7 883.4 A240 240 0 0 0 1427.17 649.68"/>
<path d="M1547.4 590.68 A300 300 0 0 0 1422.33 589.33"/>
</g>
<text x="1487.74" y="850.38" font-size="21.5" text-anchor="middle" font-weight="bold" fill="#B8860B">1</text>
<text x="1475.8" y="790.22" font-size="21.5" text-anchor="middle" font-weight="bold" fill="#B8860B">2</text>
<text x="1446.08" y="733.63" font-size="21.5" text-anchor="middle" font-weight="bold" fill="#B8860B">3</text>
<text x="1761.82" y="539.84" font-size="21.5" text-anchor="end" fill="#B8860B">centred</text>
<text x="1761.82" y="571.24" font-size="21.5" text-anchor="end" fill="#B8860B">RMS error</text>
<text transform="translate(1455.54 546.74) rotate(-84.26)" font-size="21.5" text-anchor="middle" dy="7.84">0.1</text>
<text transform="translate(1489.37 551.88) rotate(-78.46)" font-size="21.5" text-anchor="middle" dy="7.84">0.2</text>
<text transform="translate(1523.21 560.63) rotate(-72.54)" font-size="21.5" text-anchor="middle" dy="7.84">0.3</text>
<text transform="translate(1557.04 573.3) rotate(-66.42)" font-size="21.5" text-anchor="middle" dy="7.84">0.4</text>
<text transform="translate(1590.88 590.38) rotate(-60)" font-size="21.5" text-anchor="middle" dy="7.84">0.5</text>
<text transform="translate(1624.71 612.72) rotate(-53.13)" font-size="21.5" text-anchor="middle" dy="7.84">0.6</text>
<text transform="translate(1658.55 641.77) rotate(-45.57)" font-size="21.5" text-anchor="middle" dy="7.84">0.7</text>
<text transform="translate(1692.38 680.39) rotate(-36.87)" font-size="21.5" text-anchor="middle" dy="7.84">0.8</text>
<text transform="translate(1726.22 735.92) rotate(-25.84)" font-size="21.5" text-anchor="middle" dy="7.84">0.9</text>
<text transform="translate(1743.13 777.75) rotate(-18.19)" font-size="21.5" text-anchor="middle" dy="7.84">0.95</text>
<text transform="translate(1756.67 835.67) rotate(-8.11)" font-size="21.5" text-anchor="middle" dy="7.84">0.99</text>
<text transform="translate(1682.94 621.66) rotate(45)" font-size="21.5" text-anchor="middle" dy="7">correlation</text>
<circle cx="1481.7" cy="883.4" r="8.4" fill="#A020F0"/>
<text x="1481.7" y="872.4" font-size="21.5" text-anchor="middle" fill="#A020F0">observed</text>
<circle cx="1435.8" cy="839.6" r="10.9" fill="#40E0D0"/>
<circle cx="1435.9" cy="837.4" r="10.9" fill="#ADD8E6"/>
<circle cx="1426.8" cy="868.6" r="10.9" fill="#7F7F7F"/>
<circle cx="1437.6" cy="875.8" r="10.9" fill="#FFFF00"/>
<circle cx="1439.6" cy="864" r="10.9" fill="#FFA500"/>
<circle cx="1423.1" cy="859" r="10.9" fill="#0000FF"/>
<circle cx="1438.8" cy="860.9" r="10.9" fill="#BEBEBE"/>
<circle cx="1434.3" cy="865.8" r="10.9" fill="#FF6A6A"/>
<circle cx="1426.8" cy="868.6" r="10.9" fill="#4D4D4D"/>
<circle cx="1426.8" cy="868.6" r="10.9" fill="#8B0000"/>
<circle cx="1423" cy="883" r="10.9" fill="#00008B"/>
</g>
<path d="M1064.3 108.9H1421.7V496.3H1064.3Z M1064.3 138.5H1421.7M1421.7 108.9H1779.3V496.3H1421.7Z M1421.7 138.5H1779.3M1064.3 496.3H1421.7V883.4H1064.3Z M1064.3 526H1421.7M1421.7 496.3H1779.3V883.4H1421.7Z M1421.7 526H1779.3" fill="none" stroke="#000" stroke-width="2.1" stroke-linejoin="miter"/>
<path d="M1064.3 108.9v-15.2M1064.3 883.4v15.2M1124.3 108.9v-15.2M1124.3 883.4v15.2M1184.3 108.9v-15.2M1184.3 883.4v15.2M1244.3 108.9v-15.2M1244.3 883.4v15.2M1304.3 108.9v-15.2M1304.3 883.4v15.2M1364.3 108.9v-15.2M1364.3 883.4v15.2M1421.7 108.9v-15.2M1421.7 883.4v15.2M1481.7 108.9v-15.2M1481.7 883.4v15.2M1541.7 108.9v-15.2M1541.7 883.4v15.2M1601.7 108.9v-15.2M1601.7 883.4v15.2M1661.7 108.9v-15.2M1661.7 883.4v15.2M1721.7 108.9v-15.2M1721.7 883.4v15.2M1064.3 496.3h-15.2M1779.3 496.3h15.2M1064.3 436.3h-15.2M1779.3 436.3h15.2M1064.3 376.3h-15.2M1779.3 376.3h15.2M1064.3 316.3h-15.2M1779.3 316.3h15.2M1064.3 256.3h-15.2M1779.3 256.3h15.2M1064.3 196.3h-15.2M1779.3 196.3h15.2M1064.3 883.4h-15.2M1779.3 883.4h15.2M1064.3 823.4h-15.2M1779.3 823.4h15.2M1064.3 763.4h-15.2M1779.3 763.4h15.2M1064.3 703.4h-15.2M1779.3 703.4h15.2M1064.3 643.4h-15.2M1779.3 643.4h15.2M1064.3 583.4h-15.2M1779.3 583.4h15.2" fill="none" stroke="#000" stroke-width="2.1"/>
<text x="1481.7" y="81" font-size="27.6" text-anchor="middle" stroke="#000" stroke-width="0.5">1</text>
<text x="1124.3" y="932.9" font-size="27.6" text-anchor="middle" stroke="#000" stroke-width="0.5">1</text>
<text x="1035.1" y="447.26" font-size="27.6" text-anchor="end" stroke="#000" stroke-width="0.5">1</text>
<text x="1808.3" y="833.46" font-size="27.6" stroke="#000" stroke-width="0.5">1</text>
<text x="1541.7" y="81" font-size="27.6" text-anchor="middle" stroke="#000" stroke-width="0.5">2</text>
<text x="1184.3" y="932.9" font-size="27.6" text-anchor="middle" stroke="#000" stroke-width="0.5">2</text>
<text x="1035.1" y="387.26" font-size="27.6" text-anchor="end" stroke="#000" stroke-width="0.5">2</text>
<text x="1808.3" y="773.46" font-size="27.6" stroke="#000" stroke-width="0.5">2</text>
<text x="1601.7" y="81" font-size="27.6" text-anchor="middle" stroke="#000" stroke-width="0.5">3</text>
<text x="1244.3" y="932.9" font-size="27.6" text-anchor="middle" stroke="#000" stroke-width="0.5">3</text>
<text x="1035.1" y="327.26" font-size="27.6" text-anchor="end" stroke="#000" stroke-width="0.5">3</text>
<text x="1808.3" y="713.46" font-size="27.6" stroke="#000" stroke-width="0.5">3</text>
<text x="1661.7" y="81" font-size="27.6" text-anchor="middle" stroke="#000" stroke-width="0.5">4</text>
<text x="1304.3" y="932.9" font-size="27.6" text-anchor="middle" stroke="#000" stroke-width="0.5">4</text>
<text x="1035.1" y="267.26" font-size="27.6" text-anchor="end" stroke="#000" stroke-width="0.5">4</text>
<text x="1808.3" y="653.46" font-size="27.6" stroke="#000" stroke-width="0.5">4</text>
<text x="1721.7" y="81" font-size="27.6" text-anchor="middle" stroke="#000" stroke-width="0.5">5</text>
<text x="1364.3" y="932.9" font-size="27.6" text-anchor="middle" stroke="#000" stroke-width="0.5">5</text>
<text x="1035.1" y="207.26" font-size="27.6" text-anchor="end" stroke="#000" stroke-width="0.5">5</text>
<text x="1808.3" y="593.46" font-size="27.6" stroke="#000" stroke-width="0.5">5</text>
<text x="1238.9" y="130.95" font-size="24.6" text-anchor="middle">Spring</text>
<text x="1596.3" y="132.95" font-size="24.6" text-anchor="middle">Summer</text>
<text x="1238.9" y="520.4" font-size="24.6" text-anchor="middle">Autumn</text>
<text x="1596.3" y="520.4" font-size="24.6" text-anchor="middle">Winter</text>
<text transform="translate(127.8 43.8) scale(1 0.955)" font-size="46" stroke="#000" stroke-width="0.25">a.</text>
<text x="1071" y="36" font-size="46" stroke="#000" stroke-width="0.25">b.</text>
<text transform="translate(290.41 987)" stroke="#000"><tspan x="0" y="0" font-size="33.3" stroke-width="0.3">Standard Deviation </tspan><tspan x="333.21" y="1.3" font-size="34.8" stroke-width="0.3">(</tspan><tspan x="347.92" y="-12.3" font-size="21.31" stroke-width="0.55">o</tspan><tspan x="361.02" y="0" font-size="33.3" stroke-width="0.3">C</tspan><tspan x="384.41" y="1.3" font-size="34.8" stroke-width="0.3">)</tspan></text>
<text transform="translate(1165.11 981.9)" stroke="#000"><tspan x="0" y="0" font-size="33.3" stroke-width="0.3">Standard Deviation </tspan><tspan x="332.91" y="1.3" font-size="34.8" stroke-width="0.3">(</tspan><tspan x="347.57" y="0" font-size="33.3" stroke-width="0.3">mg </tspan><tspan x="409.26" y="0" font-size="33.3" stroke-width="0.3">chl </tspan><tspan x="468.07" y="0" font-size="33.3" stroke-width="0.3">m</tspan><tspan x="501.77" y="-11.6" font-size="20.98" stroke-width="0.55">-</tspan><tspan x="510.8" y="-11.6" font-size="20.98" stroke-width="0.55">3</tspan><tspan x="524.91" y="1.3" font-size="34.8" stroke-width="0.3">)</tspan></text>
<text transform="translate(25.2 694.59) rotate(-89.72) scale(1.004 1)" stroke="#000"><tspan x="0" y="0" font-size="33.3" stroke-width="0.3">Standard Deviation </tspan><tspan x="333.21" y="1.3" font-size="34.8" stroke-width="0.3">(</tspan><tspan x="347.92" y="-12.3" font-size="21.31" stroke-width="0.55">o</tspan><tspan x="361.02" y="0" font-size="33.3" stroke-width="0.3">C</tspan><tspan x="384.41" y="1.3" font-size="34.8" stroke-width="0.3">)</tspan></text>
<text transform="translate(989.4 768.99) rotate(-90.25) scale(1.003 1)" stroke="#000"><tspan x="0" y="0" font-size="33.3" stroke-width="0.3">Standard Deviation </tspan><tspan x="332.91" y="1.3" font-size="34.8" stroke-width="0.3">(</tspan><tspan x="347.57" y="0" font-size="33.3" stroke-width="0.3">mg </tspan><tspan x="409.26" y="0" font-size="33.3" stroke-width="0.3">chl </tspan><tspan x="468.07" y="0" font-size="33.3" stroke-width="0.3">m</tspan><tspan x="501.77" y="-11.6" font-size="20.98" stroke-width="0.55">-</tspan><tspan x="510.8" y="-11.6" font-size="20.98" stroke-width="0.55">3</tspan><tspan x="524.91" y="1.3" font-size="34.8" stroke-width="0.3">)</tspan></text>
<text x="1954.4" y="361.7" font-size="24.5">Models</text>
<circle cx="1893.5" cy="394" r="11.2" fill="#40E0D0"/>
<text x="1950.8" y="402.5" font-size="24.5">CanESM2</text>
<circle cx="1893.5" cy="420.2" r="11.2" fill="#ADD8E6"/>
<text x="1950.8" y="428.7" font-size="24.5">CMCC-CESM</text>
<circle cx="1893.5" cy="446.4" r="11.2" fill="#7F7F7F"/>
<text x="1950.8" y="454.9" font-size="24.5">CNRM-CM5A</text>
<circle cx="1893.5" cy="472.6" r="11.2" fill="#FFFF00"/>
<text x="1950.8" y="481.1" font-size="24.5">GFDL-ESM2G</text>
<circle cx="1893.5" cy="498.8" r="11.2" fill="#FFA500"/>
<text x="1950.8" y="507.3" font-size="24.5">GFDL-ESM2M</text>
<circle cx="1893.5" cy="525" r="11.2" fill="#0000FF"/>
<text x="1950.8" y="533.5" font-size="24.5">GISS-E2-H-CC</text>
<circle cx="1893.5" cy="551.2" r="11.2" fill="#BEBEBE"/>
<text x="1950.8" y="559.7" font-size="24.5">HadGEM2-CC</text>
<circle cx="1893.5" cy="577.4" r="11.2" fill="#FF6A6A"/>
<text x="1950.8" y="585.9" font-size="24.5">IPSL-CM5A-LR</text>
<circle cx="1893.5" cy="603.6" r="11.2" fill="#4D4D4D"/>
<text x="1950.8" y="612.1" font-size="24.5">MPI-ESM</text>
<circle cx="1893.5" cy="629.8" r="11.2" fill="#8B0000"/>
<text x="1950.8" y="638.3" font-size="24.5">MRI-ESM1</text>
<circle cx="1893.5" cy="656" r="11.2" fill="#00008B"/>
<text x="1950.8" y="664.5" font-size="24.5">NorESM1-ME</text>
</svg></body></html>
